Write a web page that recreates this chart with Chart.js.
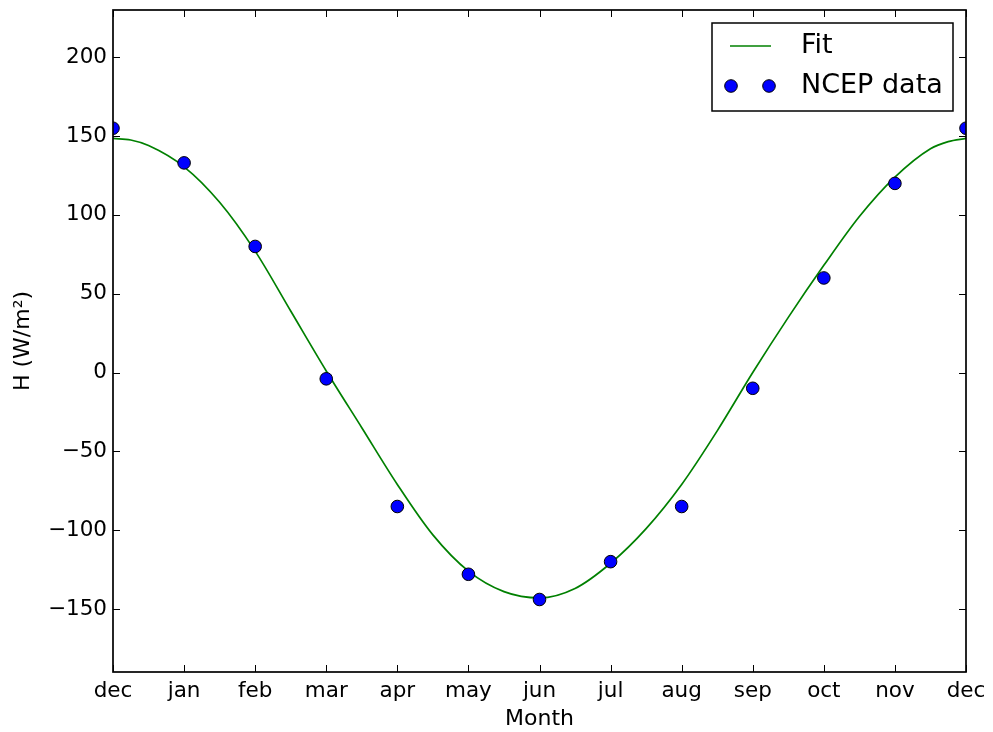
<!DOCTYPE html>
<html>
<head>
<meta charset="utf-8">
<script src="https://cdn.jsdelivr.net/npm/chart.js@4/dist/chart.umd.min.js"></script>
<style>
  html, body { margin: 0; padding: 0; background: #ffffff; }
  canvas { display: block; }
</style>
</head>
<body>
<canvas id="chart" width="993" height="732"></canvas>
<script>
// Month tick labels along the x axis (0 = December, 12 = December again)
const monthLabels = ['dec', 'jan', 'feb', 'mar', 'apr', 'may', 'jun', 'jul', 'aug', 'sep', 'oct', 'nov', 'dec'];

// Monthly positions and NCEP heat flux values, W/m²
const ncepMonths = [0, 1, 2, 3, 4, 5, 6, 7, 8, 9, 10, 11, 12];
const ncepValues = [155, 133, 80, -4, -85, -128, -144, -120, -85, -10, 60, 120, 155];

// Fitted seasonal curve, sampled every half month (plus a quarter month near each end)
const fitMonths = [0, 0.25, 0.5, 1, 1.5, 2, 2.5, 3, 3.5, 4, 4.5, 5, 5.5, 6, 6.5, 7, 7.5, 8, 8.5, 9, 9.5, 10, 10.5, 11, 11.5, 11.75, 12];
const fitValues = [148.5, 147.5, 144, 130.5, 108, 77, 39, 1, -35, -71, -103, -126, -139, -143, -137, -121, -99, -71, -37, 0, 35, 68, 99, 124, 142, 146.5, 148.5];

// y axis tick values that get a label and a tick mark
const yTickValues = [-150, -100, -50, 0, 50, 100, 150, 200];

const FONT = 'DejaVu Sans';
const tickFont = { family: FONT, size: 21.5 };
const titleFont = { family: FONT, size: 22 };
const legendFont = '27px "DejaVu Sans"';

const toPoints = (xs, ys) => xs.map((x, i) => ({ x: x, y: ys[i] }));
const fmt = v => (v < 0 ? '\u2212' + Math.abs(v) : String(v));

// Frame on all four sides plus inward-pointing tick marks
const frameAndTicks = {
  id: 'frameAndTicks',
  afterDatasetsDraw(chart) {
    const { ctx, chartArea: a, scales: { x, y } } = chart;
    const L = 7;
    ctx.save();
    ctx.strokeStyle = '#000';
    ctx.lineWidth = 1;
    ctx.beginPath();
    x.ticks.forEach(t => {
      const px = Math.round(x.getPixelForValue(t.value)) + 0.5;
      ctx.moveTo(px, a.bottom); ctx.lineTo(px, a.bottom - L);
      ctx.moveTo(px, a.top); ctx.lineTo(px, a.top + L);
    });
    y.ticks.forEach(t => {
      const py = Math.round(y.getPixelForValue(t.value)) + 0.5;
      ctx.moveTo(a.left, py); ctx.lineTo(a.left + L, py);
      ctx.moveTo(a.right, py); ctx.lineTo(a.right - L, py);
    });
    ctx.stroke();
    ctx.lineWidth = 1.7;
    ctx.strokeRect(a.left, a.top, a.right - a.left, a.bottom - a.top);
    ctx.restore();
  }
};

// Boxed legend in the upper right: a line sample for the fit, two markers for the data
const boxLegend = {
  id: 'boxLegend',
  afterDraw(chart) {
    const { ctx, chartArea: a } = chart;
    const ds = chart.data.datasets;
    const w = 241, h = 88;
    const x0 = a.right - 13 - w, y0 = a.top + 13;
    ctx.save();
    ctx.fillStyle = '#fff';
    ctx.fillRect(x0, y0, w, h);
    ctx.strokeStyle = '#000';
    ctx.lineWidth = 1.5;
    ctx.strokeRect(x0, y0, w, h);

    const rows = [y0 + 23, y0 + 63];
    ds.forEach((d, i) => {
      const cy = rows[i];
      if (d.pointRadius === 0) {
        ctx.strokeStyle = d.borderColor;
        ctx.lineWidth = d.borderWidth;
        ctx.beginPath();
        ctx.moveTo(x0 + 18, cy);
        ctx.lineTo(x0 + 59, cy);
        ctx.stroke();
      } else {
        [x0 + 19, x0 + 57].forEach(mx => {
          ctx.beginPath();
          ctx.arc(mx, cy, d.pointRadius, 0, Math.PI * 2);
          ctx.fillStyle = d.backgroundColor;
          ctx.fill();
          ctx.lineWidth = d.borderWidth;
          ctx.strokeStyle = d.borderColor;
          ctx.stroke();
        });
      }
      ctx.fillStyle = '#000';
      ctx.font = legendFont;
      ctx.textBaseline = 'middle';
      ctx.textAlign = 'left';
      ctx.fillText(d.label, x0 + 89, cy);
    });
    ctx.restore();
  }
};

new Chart(document.getElementById('chart'), {
  type: 'scatter',
  data: {
    datasets: [
      {
        label: 'Fit',
        data: toPoints(fitMonths, fitValues),
        showLine: true,
        borderColor: '#008000',
        backgroundColor: '#008000',
        borderWidth: 1.7,
        pointRadius: 0,
        cubicInterpolationMode: 'monotone',
        clip: 0,
        order: 1
      },
      {
        label: 'NCEP data',
        data: toPoints(ncepMonths, ncepValues),
        showLine: false,
        backgroundColor: '#0000ff',
        borderColor: '#000000',
        borderWidth: 1,
        pointRadius: 6.3,
        clip: 0,
        order: 0
      }
    ]
  },
  options: {
    responsive: false,
    animation: false,
    events: [],
    layout: { padding: { top: 10, right: 27, left: 0, bottom: 0 } },
    plugins: { legend: { display: false }, tooltip: { enabled: false } },
    scales: {
      x: {
        type: 'linear',
        min: 0,
        max: 12,
        afterBuildTicks: s => { s.ticks = ncepMonths.map(v => ({ value: v })); },
        afterFit: s => { s.height = 60; s.paddingLeft = 0; s.paddingRight = 0; },
        grid: { display: false, drawTicks: false },
        border: { display: false },
        ticks: {
          autoSkip: false,
          maxRotation: 0,
          padding: 7,
          color: '#000',
          font: tickFont,
          callback: v => monthLabels[v]
        },
        title: {
          display: true,
          text: 'Month',
          color: '#000',
          font: titleFont,
          padding: { top: 0, bottom: 0 }
        }
      },
      y: {
        type: 'linear',
        min: -190,
        max: 230,
        afterBuildTicks: s => { s.ticks = yTickValues.map(v => ({ value: v })); },
        afterFit: s => { s.width = 113; s.paddingTop = 0; s.paddingBottom = 0; },
        grid: { display: false, drawTicks: false },
        border: { display: false },
        ticks: {
          padding: 6,
          color: '#000',
          font: tickFont,
          callback: v => fmt(v)
        },
        title: {
          display: true,
          text: 'H (W/m\u00B2)',
          color: '#000',
          font: titleFont,
          padding: { top: 10, bottom: 0 }
        }
      }
    }
  },
  plugins: [frameAndTicks, boxLegend]
});
</script>
</body>
</html>
